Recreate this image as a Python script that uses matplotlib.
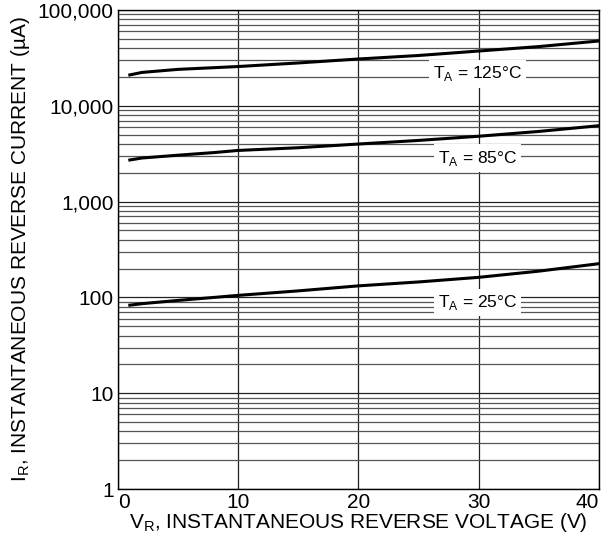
import matplotlib
matplotlib.use("Agg")
import matplotlib.pyplot as plt
from matplotlib.ticker import FixedLocator, LogLocator, NullFormatter

plt.rcParams['font.family'] = ['Liberation Sans', 'DejaVu Sans']

voltage = [1, 2, 5, 8, 10, 15, 20, 25, 30, 35, 40]
current_125 = [21000, 22300, 24000, 25000, 25700, 28000, 30800, 33500, 37300, 41500, 47500]
current_85 = [2720, 2850, 3050, 3250, 3420, 3650, 3990, 4350, 4810, 5400, 6200]
current_25 = [83, 86, 93, 100, 105, 117, 132, 145, 162, 188, 225]

labels = ["T$_\\mathregular{A}$ = 125°C", "T$_\\mathregular{A}$ = 85°C", "T$_\\mathregular{A}$ = 25°C"]
label_pos = [(29.9, 21500), (29.9, 2850), (29.9, 88)]

x_ticks = [0, 10, 20, 30, 40]
y_ticks = [1, 10, 100, 1000, 10000, 100000]
y_tick_labels = ["1", "10", "100", "1,000", "10,000", "100,000"]

fig = plt.figure(figsize=(6.01, 5.4), dpi=100)
ax = fig.add_axes([0.196, 0.0944, 0.8007, 0.8871])
ax.set_yscale('log')
ax.set_xlim(0, 40)
ax.set_ylim(1, 100000)

ax.set_xticks(x_ticks)
ax.set_xticklabels([str(v) for v in x_ticks])
ax.yaxis.set_major_locator(FixedLocator(y_ticks))
ax.set_yticklabels(y_tick_labels)
ax.yaxis.set_minor_locator(LogLocator(base=10, subs=range(2, 10), numticks=20))
ax.yaxis.set_minor_formatter(NullFormatter())
ax.tick_params(which='both', length=0, labelsize=15, colors='black')
ax.tick_params(axis='y', pad=3)
ax.tick_params(axis='x', pad=3)
xl = ax.get_xticklabels()
xl[-1].set_horizontalalignment('right')
xl[0].set_horizontalalignment('left')

ax.grid(True, which='major', axis='both', color='#222222', linewidth=0.9)
ax.grid(True, which='minor', axis='y', color='#555555', linewidth=0.9)
ax.set_axisbelow(True)
for s in ax.spines.values():
    s.set_linewidth(1.0)

for cur in (current_125, current_85, current_25):
    ax.plot(voltage, cur, color='black', linewidth=2.2, zorder=3)

for txt, (xv, yv) in zip(labels, label_pos):
    ax.text(xv, yv, txt, ha='center', va='center', fontsize=12.5, zorder=4,
            bbox=dict(facecolor='white', edgecolor='none', pad=3))

ax.set_xlabel("V$_\\mathregular{R}$, INSTANTANEOUS REVERSE VOLTAGE (V)", fontsize=15, labelpad=-1)
ax.set_ylabel("I$_\\mathregular{R}$, INSTANTANEOUS REVERSE CURRENT (µA)", fontsize=15, labelpad=4)

fig.savefig("out.png", dpi=100)
